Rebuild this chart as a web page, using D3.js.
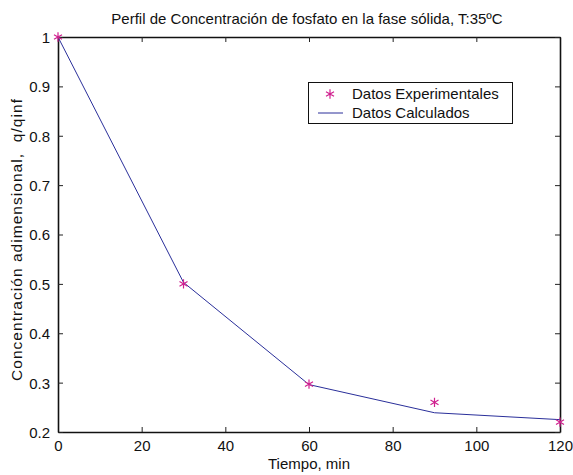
<!DOCTYPE html>
<html>
<head>
<meta charset="utf-8">
<script src="https://cdn.jsdelivr.net/npm/d3@7"></script>
<style>
  body { margin: 0; background: #fff; }
  svg { display: block; }
</style>
</head>
<body>
<svg id="chart"></svg>
<script>
// datos
const tiempos = [0, 30, 60, 90, 120];
const experimentales = [1.0, 0.5, 0.297, 0.26, 0.22];
const calculados = [1.0, 0.503, 0.296, 0.239, 0.225];
const xTicks = [0, 20, 40, 60, 80, 100, 120];
const yTicks = [0.2, 0.3, 0.4, 0.5, 0.6, 0.7, 0.8, 0.9, 1];

const width = 573, height = 475;
const margin = { left: 58, right: 13, top: 37, bottom: 43 };
const fontFamily = "'Liberation Sans', Arial, Helvetica, sans-serif";
const fontSize = 15;
const colorExp = "#d0208f";
const colorCalc = "#2a2f9a";

const svg = d3.select("#chart").attr("width", width).attr("height", height);

const x = d3.scaleLinear().domain([0, 120]).range([margin.left, width - margin.right]);
const y = d3.scaleLinear().domain([0.2, 1]).range([height - margin.bottom, margin.top]);

//ejes
const fmt = d => String(d);
const axB = svg.append("g").attr("transform", `translate(0, ${y(0.2)})`)
  .call(d3.axisBottom(x).tickValues(xTicks).tickFormat(fmt).tickSizeInner(-5).tickSizeOuter(0).tickPadding(8));
const axT = svg.append("g").attr("transform", `translate(0, ${y(1)})`)
  .call(d3.axisTop(x).tickValues(xTicks).tickFormat("").tickSizeInner(-5).tickSizeOuter(0));
const axL = svg.append("g").attr("transform", `translate(${x(0)}, 0)`)
  .call(d3.axisLeft(y).tickValues(yTicks).tickFormat(fmt).tickSizeInner(-5).tickSizeOuter(0).tickPadding(8));
const axR = svg.append("g").attr("transform", `translate(${x(120)}, 0)`)
  .call(d3.axisRight(y).tickValues(yTicks).tickFormat("").tickSizeInner(-5).tickSizeOuter(0));

[axB, axT, axL, axR].forEach(g => {
  g.select(".domain").attr("stroke", "#111").attr("stroke-width", 1.6);
  g.selectAll(".tick line").attr("stroke", "#222").attr("stroke-width", 1);
  g.selectAll(".tick text").attr("font-family", fontFamily).attr("font-size", fontSize).attr("fill", "#111");
});
axL.selectAll(".tick text").attr("dy", "0.36em");

//linea calculada
const lineData = tiempos.map((t, i) => ({ t: t, v: calculados[i] }));
svg.append("path")
  .datum(lineData)
  .attr("fill", "none")
  .attr("stroke", colorCalc)
  .attr("stroke-width", 1)
  .attr("d", d3.line().x(d => x(d.t)).y(d => y(d.v)));

//puntos experimentales (asterisco)
const star = d3.symbol().type(d3.symbolAsterisk).size(60);
svg.append("g").selectAll("path")
  .data(tiempos.map((t, i) => ({ t: t, v: experimentales[i] })))
  .enter()
  .append("path")
  .attr("transform", d => `translate(${x(d.t)}, ${y(d.v)})`)
  .attr("d", star)
  .attr("fill", "none")
  .attr("stroke", colorExp)
  .attr("stroke-width", 1.2);

//leyenda
const lg = svg.append("g");
lg.append("rect")
  .attr("x", 308.5).attr("y", 82.5).attr("width", 204).attr("height", 41)
  .attr("fill", "#fff").attr("stroke", "#111").attr("stroke-width", 1);
lg.append("path")
  .attr("transform", "translate(330, 94)")
  .attr("d", star)
  .attr("fill", "none")
  .attr("stroke", colorExp)
  .attr("stroke-width", 1.2);
lg.append("line")
  .attr("x1", 318).attr("x2", 343).attr("y1", 113).attr("y2", 113)
  .attr("stroke", colorCalc).attr("stroke-width", 1);
lg.append("text").text("Datos Experimentales")
  .attr("x", 352).attr("y", 99)
  .attr("font-family", fontFamily).attr("font-size", fontSize).attr("fill", "#111");
lg.append("text").text("Datos Calculados")
  .attr("x", 352).attr("y", 118)
  .attr("font-family", fontFamily).attr("font-size", fontSize).attr("fill", "#111");

//titulos
svg.append("text").text("Perfil de Concentración de fosfato en la fase sólida, T:35ºC")
  .attr("x", 307).attr("y", 24)
  .attr("text-anchor", "middle")
  .attr("font-family", fontFamily).attr("font-size", fontSize).attr("fill", "#111");
svg.append("text").text("Tiempo, min")
  .attr("x", (x(0) + x(120)) / 2).attr("y", 469)
  .attr("text-anchor", "middle")
  .attr("font-family", fontFamily).attr("font-size", fontSize).attr("fill", "#111");
svg.append("text").text("Concentración adimensional,  q/qinf")
  .attr("transform", `translate(22, 240) rotate(-90)`)
  .attr("text-anchor", "middle")
  .attr("xml:space", "preserve")
  .style("white-space", "pre")
  .attr("textLength", 282)
  .attr("lengthAdjust", "spacing")
  .attr("font-family", fontFamily).attr("font-size", 15.5).attr("fill", "#111");
</script>
</body>
</html>
